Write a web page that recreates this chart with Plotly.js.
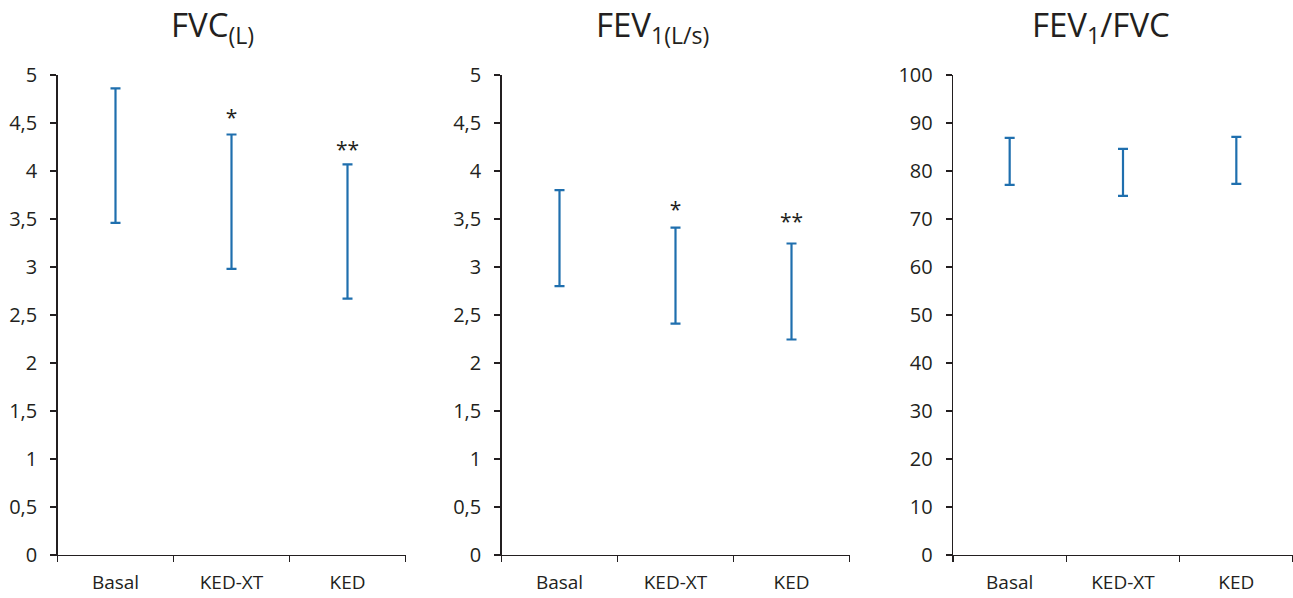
<!DOCTYPE html>
<html>
<head>
<meta charset="utf-8">
<script src="https://cdn.plot.ly/plotly-3.0.1.min.js"></script>
<style>html,body{margin:0;padding:0;background:#fff;}#chart{width:1293px;height:598px;}</style>
</head>
<body>
<div id="chart"></div>
<script>
// Data
const categories = ["Basal", "KED-XT", "KED"];
const fvcMean = [4.16, 3.68, 3.37];
const fvcSD = [0.70, 0.70, 0.70];
const fev1Mean = [3.30, 2.91, 2.745];
const fev1SD = [0.50, 0.50, 0.50];
const ratioMean = [82.0, 79.7, 82.2];
const ratioSD = [4.9, 4.9, 4.9];
const sigCategories = ["KED-XT", "KED"];
const fvcSig = ["*", "**"];
const fvcSigY = [4.53, 4.20];
const fev1Sig = ["*", "**"];
const fev1SigY = [3.58, 3.45];
const panelTitles = ["FVC<sub>(L)</sub>", "FEV<sub>1(L/s)</sub>", "FEV<sub>1</sub>/FVC"];
const yTicksFev = [0, 0.5, 1, 1.5, 2, 2.5, 3, 3.5, 4, 4.5, 5];
const yTickTextFev = ["0", "0,5", "1", "1,5", "2", "2,5", "3", "3,5", "4", "4,5", "5"];
const yTicksRatio = [0, 10, 20, 30, 40, 50, 60, 70, 80, 90, 100];

const W = 1293, H = 598;
const blue = "#1f6fae";
const ink = "#231f20";
const font = "Open Sans, Noto Sans, sans-serif";

function errTrace(means, sds, xa, ya) {
  return {
    type: "scatter", mode: "markers", x: categories, y: means,
    xaxis: xa, yaxis: ya,
    marker: {size: 1, color: "rgba(0,0,0,0)"},
    error_y: {type: "data", array: sds, visible: true, color: blue, thickness: 2.2, width: 5},
    hoverinfo: "skip", showlegend: false
  };
}
function sigTrace(labels, ys, xa, ya) {
  return {
    type: "scatter", mode: "text", x: sigCategories, y: ys, text: labels,
    xaxis: xa, yaxis: ya, textposition: "middle center",
    textfont: {family: font, size: 21, color: ink},
    hoverinfo: "skip", showlegend: false
  };
}

const traces = [
  errTrace(fvcMean, fvcSD, "x", "y"),
  sigTrace(fvcSig, fvcSigY, "x", "y"),
  errTrace(fev1Mean, fev1SD, "x2", "y2"),
  sigTrace(fev1Sig, fev1SigY, "x2", "y2"),
  errTrace(ratioMean, ratioSD, "x3", "y3")
];

const yDom = [1 - 555/H, 1 - 75/H];
const xDoms = [[57.5/W, 405.5/W], [501.5/W, 849.5/W], [953/W, 1293/W]];

function xAxis(dom, anchor) {
  return {
    domain: dom, anchor: anchor, type: "category", categoryorder: "array", categoryarray: categories,
    range: [-0.5, 2.5], tickson: "boundaries", ticks: "outside", ticklen: 6, tickwidth: 1.3, tickcolor: ink,
    showline: true, linecolor: ink, linewidth: 1.3, showgrid: false, zeroline: false,
    tickfont: {family: font, size: 19, color: ink}, ticklabelstandoff: 10, fixedrange: true
  };
}
function yAxis(anchor, range, tv, tt) {
  return {
    domain: yDom, anchor: anchor, range: range, tickvals: tv, ticktext: tt,
    ticks: "outside", ticklen: 6, tickwidth: 1.3, tickcolor: ink,
    showline: true, linecolor: ink, linewidth: 1.3, showgrid: false, zeroline: false,
    tickfont: {family: font, size: 20, color: ink}, ticklabelstandoff: 9, fixedrange: true
  };
}

const titleX = [212, 652, 1101];
const annotations = panelTitles.map((t, i) => ({
  text: t, xref: "paper", yref: "paper", x: titleX[i] / W, y: 1 - 27 / H,
  xanchor: "center", yanchor: "middle", showarrow: false,
  font: {family: font, size: 33, color: ink}
}));

const layout = {
  width: W, height: H, margin: {l: 0, r: 0, t: 0, b: 0},
  paper_bgcolor: "#fff", plot_bgcolor: "#fff", showlegend: false,
  xaxis: xAxis(xDoms[0], "y"),
  yaxis: yAxis("x", [0, 5], yTicksFev, yTickTextFev),
  xaxis2: xAxis(xDoms[1], "y2"),
  yaxis2: yAxis("x2", [0, 5], yTicksFev, yTickTextFev),
  xaxis3: xAxis(xDoms[2], "y3"),
  yaxis3: yAxis("x3", [0, 100], yTicksRatio, yTicksRatio.map(String)),
  annotations: annotations
};

Plotly.newPlot("chart", traces, layout, {displayModeBar: false, staticPlot: true});
</script>
</body>
</html>
